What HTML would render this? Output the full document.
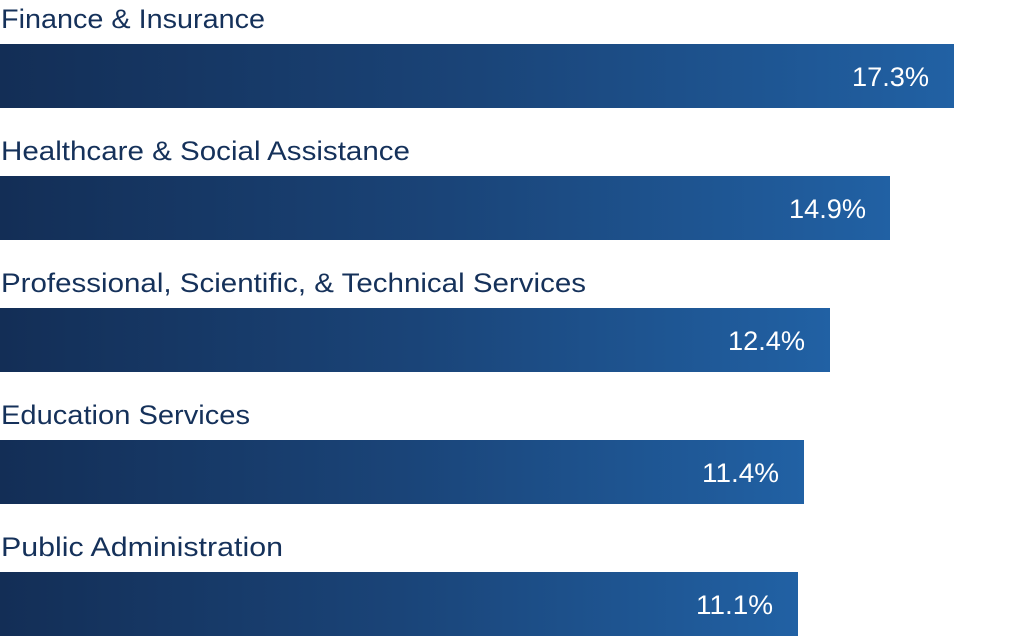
<!DOCTYPE html>
<html>
<head>
<meta charset="utf-8">
<style>
  html,body{margin:0;padding:0;background:#fff;}
  svg{display:block;}
  .lbl{font-family:"Liberation Sans",sans-serif;font-size:27px;fill:#15315a;}
  .val{font-family:"Liberation Sans",sans-serif;font-size:27px;fill:#ffffff;}
</style>
</head>
<body>
<svg width="1024" height="636" viewBox="0 0 1024 636" xmlns="http://www.w3.org/2000/svg">
  <defs>
    <linearGradient id="g" x1="0" y1="0" x2="1" y2="0">
      <stop offset="0" stop-color="#132e56"/>
      <stop offset="0.5" stop-color="#1a4478"/>
      <stop offset="1" stop-color="#2161a4"/>
    </linearGradient>
  </defs>

  <text class="lbl" x="1" y="28" textLength="264" lengthAdjust="spacingAndGlyphs">Finance &amp; Insurance</text>
  <rect x="0" y="44" width="954" height="64" fill="url(#g)"/>
  <text class="val" x="929" y="86" text-anchor="end" textLength="77" lengthAdjust="spacingAndGlyphs">17.3%</text>

  <text class="lbl" x="1" y="160" textLength="409" lengthAdjust="spacingAndGlyphs">Healthcare &amp; Social Assistance</text>
  <rect x="0" y="176" width="890" height="64" fill="url(#g)"/>
  <text class="val" x="866" y="218" text-anchor="end" textLength="77" lengthAdjust="spacingAndGlyphs">14.9%</text>

  <text class="lbl" x="1" y="292" textLength="585" lengthAdjust="spacingAndGlyphs">Professional, Scientific, &amp; Technical Services</text>
  <rect x="0" y="308" width="830" height="64" fill="url(#g)"/>
  <text class="val" x="805" y="350" text-anchor="end" textLength="77" lengthAdjust="spacingAndGlyphs">12.4%</text>

  <text class="lbl" x="1" y="424" textLength="249" lengthAdjust="spacingAndGlyphs">Education Services</text>
  <rect x="0" y="440" width="804" height="64" fill="url(#g)"/>
  <text class="val" x="779" y="482" text-anchor="end" textLength="77" lengthAdjust="spacingAndGlyphs">11.4%</text>

  <text class="lbl" x="1" y="556" textLength="282" lengthAdjust="spacingAndGlyphs">Public Administration</text>
  <rect x="0" y="572" width="798" height="64" fill="url(#g)"/>
  <text class="val" x="773" y="614" text-anchor="end" textLength="77" lengthAdjust="spacingAndGlyphs">11.1%</text>
</svg>
</body>
</html>
